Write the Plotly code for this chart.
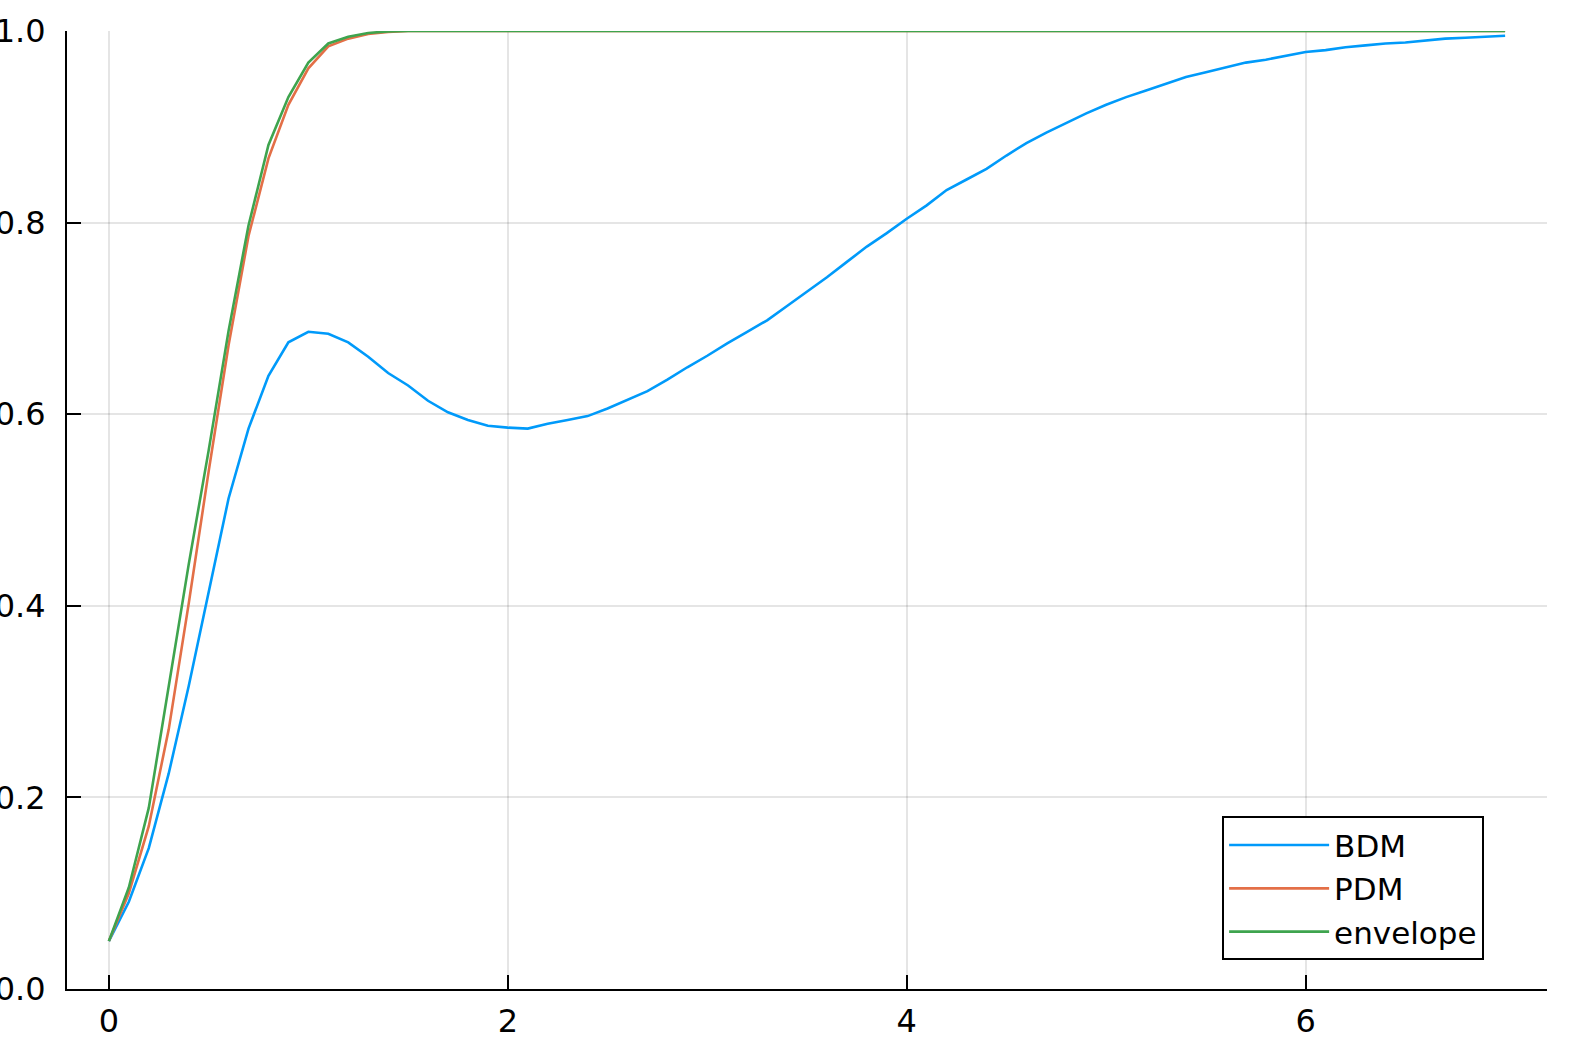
import plotly.graph_objects as go

# sampling grid t = 0.0, 0.1, ..., 7.0
t = [i / 10 for i in range(71)]

bdm = [0.050, 0.091, 0.147, 0.225, 0.316, 0.414, 0.512, 0.585, 0.640, 0.675,
       0.686, 0.684, 0.675, 0.660, 0.643, 0.630, 0.614, 0.602, 0.594, 0.588,
       0.586, 0.585, 0.590, 0.594, 0.598, 0.606, 0.615, 0.624, 0.636, 0.649,
       0.661, 0.674, 0.686, 0.698, 0.713, 0.728, 0.743, 0.759, 0.775, 0.789,
       0.804, 0.818, 0.834, 0.845, 0.856, 0.870, 0.883, 0.894, 0.904, 0.914,
       0.923, 0.931, 0.938, 0.945, 0.952, 0.957, 0.962, 0.967, 0.970, 0.974,
       0.978, 0.980, 0.983, 0.985, 0.987, 0.988, 0.990, 0.992, 0.993, 0.994,
       0.995]

pdm_head = [0.050, 0.100, 0.170, 0.271, 0.402, 0.540, 0.672, 0.786, 0.867, 0.923,
            0.961, 0.984, 0.992, 0.997, 0.999, 1.000]
env_head = [0.050, 0.106, 0.189, 0.315, 0.443, 0.562, 0.687, 0.797, 0.881, 0.931,
            0.967, 0.987, 0.994, 0.998, 0.9995, 1.000]
pdm = pdm_head + [1.0] * (len(t) - len(pdm_head))
envelope = env_head + [1.0] * (len(t) - len(env_head))

series = [("BDM", bdm, "#009AFA"), ("PDM", pdm, "#E36F47"), ("envelope", envelope, "#3EA44E")]

fig = go.Figure()
for name, ys, col in series:
    fig.add_trace(go.Scatter(x=t, y=ys, mode="lines", name=name,
                             line=dict(color=col, width=2.6)))

axis_style = dict(showline=True, linecolor="black", linewidth=2, mirror=False,
                  ticks="inside", ticklen=14, tickwidth=2, tickcolor="black",
                  showgrid=True, gridcolor="rgba(0,0,0,0.1)", gridwidth=1.5,
                  zeroline=False, automargin=False,
                  tickfont=dict(family="DejaVu Sans", size=32, color="black"))

fig.update_xaxes(range=[-0.21, 7.21], tickvals=[0, 2, 4, 6], ticktext=["0", "2", "4", "6"],
                 ticklabelstandoff=3, **axis_style)
fig.update_yaxes(range=[0, 1], tickvals=[0, 0.2, 0.4, 0.6, 0.8, 1.0],
                 ticktext=["0.0", "0.2", "0.4", "0.6", "0.8", "1.0"],
                 ticklabelstandoff=13, **axis_style)

fig.update_layout(
    width=1578, height=1052,
    margin=dict(l=67, r=31, t=31, b=63),
    plot_bgcolor="white", paper_bgcolor="white",
    font=dict(family="DejaVu Sans", size=31, color="black"),
    legend=dict(x=0.869, y=0.105, xanchor="center", yanchor="middle",
                bordercolor="black", borderwidth=2, bgcolor="white",
                itemwidth=100, font=dict(size=31)),
)

# page body has a default 8px margin; drop it so the figure sits at the corner
fig.write_html("out.html", config={"displayModeBar": False},
               post_script="document.body.style.margin = '0';")
